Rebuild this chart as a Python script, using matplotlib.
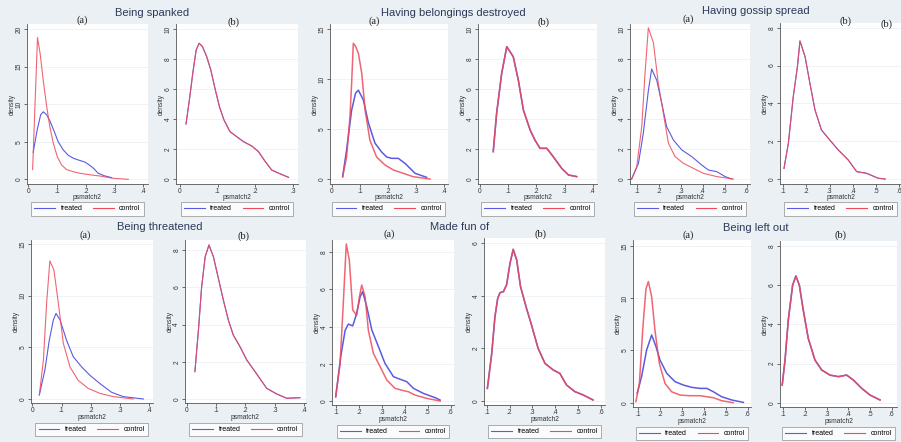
"""
Kernel density of propensity scores (psmatch2), treated vs control,
before (a) and after (b) matching, for six bullying types.
"""

import matplotlib.pyplot as plt
from matplotlib.lines import Line2D

W, H = 901, 442
BG = "#eaf0f4"
BLUE = "#5a5ae2"
RED = "#ee4a5c"
AXIS = "#555555"

plt.rcParams.update({
    "font.family": ["Liberation Sans", "DejaVu Sans"],
    "font.size": 5,
    "axes.linewidth": 0.6,
})

# ---- values (x = psmatch2, y = density) ----
SPANKED_A_T_X = [.017, .031, .043, .052, .064, .075, .090, .104, .122, .139, .157, .180, .197, .209, .226, .243, .267, .290]
SPANKED_A_T_Y = [3.6, 6.6, 8.6, 9.0, 8.6, 7.8, 6.4, 5.0, 3.9, 3.2, 2.8, 2.5, 2.3, 2.0, 1.5, 0.8, 0.44, 0.22]
SPANKED_A_C_X = [.015, .032, .041, .052, .064, .075, .087, .101, .116, .133, .157, .180, .214, .249, .296, .348]
SPANKED_A_C_Y = [1.3, 18.9, 16.8, 13.2, 9.7, 7.0, 4.8, 3.0, 1.9, 1.3, 1.0, 0.8, 0.6, 0.44, 0.13, 0.0]
SPANKED_B_X = [.016, .025, .034, .043, .051, .060, .071, .082, .093, .105, .117, .133, .151, .169, .191, .209, .227, .244, .267, .289]
SPANKED_B_Y = [3.69, 5.29, 7.07, 8.62, 9.07, 8.84, 8.18, 7.29, 6.07, 4.84, 3.96, 3.18, 2.84, 2.51, 2.22, 1.84, 1.18, 0.62, 0.36, 0.13]

BELONG_A_T_X = [.039, .053, .071, .085, .095, .113, .131, .154, .178, .196, .214, .237, .261, .297, .338]
BELONG_A_T_Y = [0.23, 2.9, 6.9, 8.6, 8.9, 7.9, 5.6, 3.6, 2.7, 2.2, 2.07, 2.07, 1.57, 0.57, 0.17]
BELONG_A_C_X = [.039, .053, .065, .071, .077, .085, .095, .107, .119, .136, .160, .190, .220, .255, .290, .350]
BELONG_A_C_Y = [0.23, 2.2, 6.2, 9.6, 13.6, 13.3, 12.6, 10.6, 6.9, 3.9, 2.2, 1.4, 0.9, 0.57, 0.23, 0.0]
BELONG_B_X = [.047, .059, .077, .095, .118, .136, .154, .178, .195, .213, .237, .260, .290, .314, .343]
BELONG_B_Y = [1.83, 4.39, 7.06, 8.84, 8.17, 6.61, 4.61, 3.27, 2.6, 2.05, 2.05, 1.49, 0.71, 0.27, 0.16]

GOSSIP_A_T_X = [.077, .108, .130, .153, .168, .191, .214, .236, .267, .305, .350, .395, .426, .464, .502, .532]
GOSSIP_A_T_Y = [0.0, 1.05, 3.05, 5.9, 7.35, 6.6, 5.05, 3.5, 2.6, 1.94, 1.5, 0.94, 0.6, 0.49, 0.16, 0.0]
GOSSIP_A_C_X = [.077, .100, .123, .138, .153, .176, .198, .221, .244, .274, .312, .358, .403, .464, .540]
GOSSIP_A_C_Y = [0.0, 0.8, 3.5, 7.1, 10.1, 9.1, 6.4, 4.4, 2.4, 1.5, 1.05, 0.71, 0.38, 0.16, 0.0]
GOSSIP_B_X = [.103, .122, .143, .161, .172, .194, .215, .237, .265, .301, .338, .381, .417, .460, .510, .540]
GOSSIP_B_Y = [0.56, 1.9, 4.35, 5.94, 7.3, 6.47, 5.06, 3.65, 2.59, 2.06, 1.53, 1.0, 0.39, 0.3, 0.04, 0.0]

THREAT_A_T_X = [.024, .043, .058, .072, .081, .095, .117, .140, .169, .197, .231, .271, .311, .380]
THREAT_A_T_Y = [0.39, 2.8, 5.7, 7.66, 8.3, 7.66, 5.7, 4.1, 3.1, 2.3, 1.5, 0.65, 0.23, 0.0]
THREAT_A_C_X = [.024, .038, .049, .060, .074, .089, .106, .129, .157, .191, .231, .277, .345]
THREAT_A_C_Y = [0.39, 3.8, 9.3, 13.4, 12.5, 9.3, 5.4, 3.1, 1.8, 1.03, 0.55, 0.23, 0.0]
THREAT_B_X = [.028, .040, .051, .063, .076, .091, .108, .125, .142, .159, .182, .205, .233, .273, .307, .341, .386]
THREAT_B_Y = [1.47, 3.7, 6.03, 7.64, 8.27, 7.64, 6.48, 5.31, 4.24, 3.43, 2.8, 2.09, 1.47, 0.57, 0.27, 0.04, 0.07]

FUN_A_T_X = [.100, .122, .141, .155, .174, .191, .206, .217, .235, .257, .286, .314, .351, .380, .409, .438, .481, .532, .554]
FUN_A_T_Y = [0.23, 2.4, 3.8, 4.14, 4.04, 4.7, 5.6, 5.88, 5.08, 3.82, 2.92, 2.03, 1.31, 1.17, 1.04, 0.68, 0.41, 0.18, 0.05]
FUN_A_C_X = [.100, .119, .133, .146, .159, .174, .191, .203, .213, .228, .242, .264, .293, .322, .358, .394, .416, .445, .496, .554]
FUN_A_C_Y = [0.23, 2.0, 5.26, 8.45, 7.6, 4.9, 4.6, 5.6, 6.24, 5.6, 3.8, 2.56, 1.85, 1.13, 0.68, 0.56, 0.5, 0.32, 0.14, 0.0]
FUN_B_X = [.103, .122, .136, .148, .158, .173, .187, .202, .216, .231, .248, .272, .296, .325, .355, .391, .420, .449, .485, .522, .565]
FUN_B_Y = [0.48, 1.81, 3.2, 3.9, 4.12, 4.16, 4.42, 5.24, 5.77, 5.37, 4.35, 3.59, 2.89, 2.0, 1.43, 1.18, 1.05, 0.61, 0.36, 0.23, 0.04]

LEFT_A_T_X = [.095, .115, .138, .161, .181, .199, .230, .268, .306, .344, .382, .413, .443, .481, .527, .580]
LEFT_A_T_Y = [0.9, 2.5, 5.04, 6.48, 5.36, 4.09, 2.81, 2.01, 1.69, 1.47, 1.37, 1.37, 1.05, 0.57, 0.26, 0.03]
LEFT_A_C_X = [.089, .105, .120, .135, .146, .161, .176, .196, .222, .252, .291, .336, .382, .413, .443, .481, .534]
LEFT_A_C_Y = [0.1, 1.85, 6.96, 10.9, 11.6, 10.15, 6.96, 3.77, 1.85, 1.05, 0.73, 0.67, 0.67, 0.57, 0.48, 0.19, 0.0]
LEFT_B_X = [.095, .108, .123, .143, .158, .174, .192, .215, .246, .277, .315, .354, .392, .423, .462, .500, .546]
LEFT_B_Y = [0.9, 2.18, 4.22, 6.0, 6.47, 6.0, 4.73, 3.29, 2.18, 1.67, 1.41, 1.33, 1.41, 1.16, 0.73, 0.39, 0.14]

GROUP_TITLES = ["Being spanked", "Having belongings destroyed", "Having gossip spread",
                "Being threatened", "Made fun of", "Being left out"]

TICKS_04 = [0, .1, .2, .3, .4]
TICKS_03 = [0, .1, .2, .3]
TICKS_16 = [.1, .2, .3, .4, .5, .6]

# ---- layout in reference pixels ----
# box = plot region (left, top, right, bottom); xmap/ymap = (value, pixel) pairs
PANELS = [
    dict(lab="(a)", lab_xy=(82, 19.7), box=(26.5, 24, 148, 184), xmap=(0, 28.3, .4, 143.3), ymap=(0, 179.3, 20, 29.3),
         xt=TICKS_04, yt=[0, 5, 10, 15, 20], t=(SPANKED_A_T_X, SPANKED_A_T_Y), c=(SPANKED_A_C_X, SPANKED_A_C_Y), lw=0.8),
    dict(lab="(b)", lab_xy=(233, 21.7), box=(176, 24, 298, 184), xmap=(0, 180, .3, 292.7), ymap=(0, 179.3, 10, 29.3),
         xt=TICKS_03, yt=[0, 2, 4, 6, 8, 10], t=(SPANKED_B_X, SPANKED_B_Y), c=(SPANKED_B_X, SPANKED_B_Y), lw=0.8),
    dict(lab="(a)", lab_xy=(374, 20.7), box=(329.5, 24, 448, 184), xmap=(0, 331.7, .4, 444), ymap=(0, 179, 15, 29.3),
         xt=TICKS_04, yt=[0, 5, 10, 15], t=(BELONG_A_T_X, BELONG_A_T_Y), c=(BELONG_A_C_X, BELONG_A_C_Y), lw=1.1),
    dict(lab="(b)", lab_xy=(544, 21.7), box=(478, 24, 597, 184), xmap=(0, 480, .4, 592.7), ymap=(0, 179, 10, 29.3),
         xt=TICKS_04, yt=[0, 2, 4, 6, 8, 10], t=(BELONG_B_X, BELONG_B_Y), c=(BELONG_B_X, BELONG_B_Y), lw=1.1),
    dict(lab="(a)", lab_xy=(688.3, 19.3), box=(630, 24, 750, 184), xmap=(.1, 636.7, .6, 746.7), ymap=(0, 179, 10, 29.3),
         xt=TICKS_16, yt=[0, 2, 4, 6, 8, 10], t=(GOSSIP_A_T_X, GOSSIP_A_T_Y), c=(GOSSIP_A_C_X, GOSSIP_A_C_Y), lw=0.8),
    dict(lab="(b)", lab_xy=(845, 20.7), box=(780, 23, 901, 184), xmap=(.1, 783.3, .6, 899), ymap=(0, 179, 8, 27.7),
         xt=TICKS_16, yt=[0, 2, 4, 6, 8], t=(GOSSIP_B_X, GOSSIP_B_Y), c=(GOSSIP_B_X, GOSSIP_B_Y), lw=0.8),
    dict(lab="(a)", lab_xy=(85, 235), box=(30.5, 240, 153, 403), xmap=(0, 32.3, .4, 149.3), ymap=(0, 399, 15, 244.3),
         xt=TICKS_04, yt=[0, 5, 10, 15], t=(THREAT_A_T_X, THREAT_A_T_Y), c=(THREAT_A_C_X, THREAT_A_C_Y), lw=0.8),
    dict(lab="(b)", lab_xy=(243.3, 235.7), box=(184.5, 240, 306, 403), xmap=(0, 186.7, .4, 304), ymap=(0, 399, 8, 250),
         xt=TICKS_04, yt=[0, 2, 4, 6, 8], t=(THREAT_B_X, THREAT_B_Y), c=(THREAT_B_X, THREAT_B_Y), lw=0.8),
    dict(lab="(a)", lab_xy=(389.3, 234), box=(332, 240, 454, 405), xmap=(.1, 335.7, .6, 450.7), ymap=(0, 401, 8, 252.3),
         xt=TICKS_16, yt=[0, 2, 4, 6, 8], t=(FUN_A_T_X, FUN_A_T_Y), c=(FUN_A_C_X, FUN_A_C_Y), lw=1.1),
    dict(lab="(b)", lab_xy=(540.7, 234), box=(484, 238, 605, 405), xmap=(.1, 486.7, .6, 601), ymap=(0, 401, 6, 243.3),
         xt=TICKS_16, yt=[0, 2, 4, 6], t=(FUN_B_X, FUN_B_Y), c=(FUN_B_X, FUN_B_Y), lw=1.1),
    dict(lab="(a)", lab_xy=(688.3, 235), box=(633, 240, 751, 407), xmap=(.1, 638.3, .6, 747.7), ymap=(0, 402.7, 15, 246),
         xt=TICKS_16, yt=[0, 5, 10, 15], t=(LEFT_A_T_X, LEFT_A_T_Y), c=(LEFT_A_C_X, LEFT_A_C_Y), lw=1.1),
    dict(lab="(b)", lab_xy=(840.7, 235), box=(780, 241, 897, 407), xmap=(.1, 783.3, .6, 891.7), ymap=(0, 402.7, 8, 246),
         xt=TICKS_16, yt=[0, 2, 4, 6, 8], t=(LEFT_B_X, LEFT_B_Y), c=(LEFT_B_X, LEFT_B_Y), lw=1.1),
]

TITLE_XY = [(152, 13), (453, 12.7), (756, 10.7), (160, 227.3), (459.5, 226.7), (755.7, 228.3)]


def fx(px):
    return px / W


def fy(py):
    return 1 - py / H


def lims(mapping, a, b):
    v0, p0, v1, p1 = mapping
    s = (v1 - v0) / (p1 - p0)
    return v0 + (a - p0) * s, v0 + (b - p0) * s


def tick_text(v):
    if v == 0:
        return "0"
    if v >= 1:
        return f"{v:g}"
    return f"{v:.1f}".lstrip("0")


def draw_panel(fig, p):
    left, top, right, bottom = p["box"]
    w, h = right - left, bottom - top
    row1 = top < 220
    ax = fig.add_axes([fx(left), fy(bottom), w / W, h / H])
    ax.set_facecolor("white")
    ax.set_xlim(*lims(p["xmap"], left, right))
    ax.set_ylim(*lims(p["ymap"], bottom, top))

    ax.plot(*p["t"], color=BLUE, lw=p["lw"], zorder=3)
    ax.plot(*p["c"], color=RED, lw=p["lw"], alpha=0.85, zorder=4)

    ax.set_xticks(p["xt"])
    ax.set_xticklabels([tick_text(v) for v in p["xt"]])
    ax.set_yticks(p["yt"])
    ax.set_yticklabels([tick_text(v) for v in p["yt"]], rotation=90, va="center")
    ax.tick_params(length=2, width=0.5, pad=1.0, labelsize=4.8, colors="#333333")
    ax.grid(axis="y", color="#eef1f4", lw=0.6)
    ax.set_axisbelow(True)
    for side in ("top", "right"):
        ax.spines[side].set_visible(False)
    for side in ("left", "bottom"):
        ax.spines[side].set_color(AXIS)

    ax.set_xlabel("psmatch2", fontsize=4.8, color="#333333", va="center")
    ax.xaxis.set_label_coords(0.5, -(13.8 if row1 else 14.8) / h)
    ax.set_ylabel("density", fontsize=4.8, color="#333333", va="center")
    ax.yaxis.set_label_coords(-14.5 / w, 0.5)

    handles = [Line2D([], [], color=BLUE, lw=0.8), Line2D([], [], color=RED, lw=0.8)]
    cx = (left + right) / 2
    leg = fig.legend(handles, ["treated", "control"], loc="center",
                     bbox_to_anchor=(fx(cx), fy(bottom + (25 if row1 else 26.5))), ncol=2,
                     fontsize=5, frameon=True, fancybox=False,
                     handlelength=3.0, handletextpad=0.8, columnspacing=1.5,
                     borderpad=0.45, edgecolor="#8a8a8a", facecolor="white")
    leg.get_frame().set_linewidth(0.6)

    lx, ly = p["lab_xy"]
    fig.text(fx(lx), fy(ly), p["lab"], ha="center", va="center", fontsize=7.5,
             family="Liberation Serif", color="#222222")
    return ax


def main():
    fig = plt.figure(figsize=(W / 100, H / 100), dpi=100, facecolor=BG)

    for p in PANELS:
        draw_panel(fig, p)

    for title, (x, y) in zip(GROUP_TITLES, TITLE_XY):
        fig.text(fx(x), fy(y), title, ha="center", va="center", fontsize=8,
                 color="#2c3a58")

    # stray duplicate panel label present in the source figure
    fig.text(fx(886.7), fy(24), "(b)", ha="center", va="center", fontsize=7.5,
             family="Liberation Serif", color="#222222")

    fig.savefig("out.png", dpi=100, facecolor=BG)


if __name__ == "__main__":
    main()
